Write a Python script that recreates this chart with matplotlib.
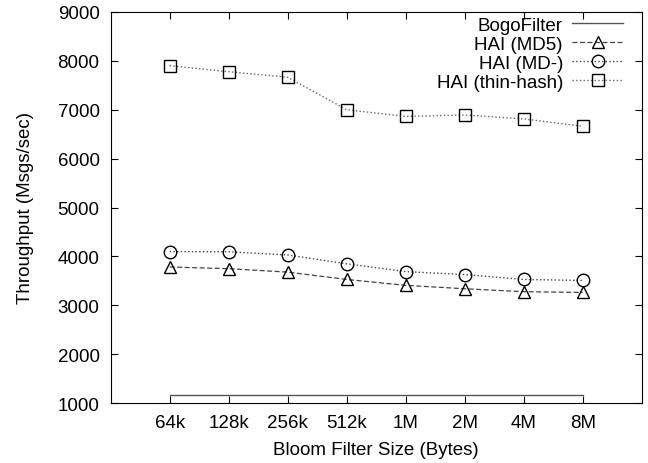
import matplotlib
matplotlib.use("Agg")
import matplotlib.pyplot as plt
import numpy as np

plt.rcParams['font.family'] = ['Liberation Sans', 'DejaVu Sans']

sizes = ["64k", "128k", "256k", "512k", "1M", "2M", "4M", "8M"]
bogofilter = [1176, 1176, 1176, 1176, 1176, 1176, 1176, 1176]
hai_md5 = [3785, 3750, 3680, 3530, 3410, 3340, 3280, 3265]
hai_mdminus = [4100, 4095, 4030, 3850, 3690, 3630, 3530, 3510]
hai_thin = [7897, 7774, 7660, 6998, 6860, 6890, 6810, 6660]

x = np.arange(len(sizes))

fig = plt.figure(figsize=(6.48, 4.64), dpi=100)
ax = fig.add_axes([110.7 / 648, 1 - 404.3 / 464, 531 / 648, 391.6 / 464])

ax.plot(x, bogofilter, "-", color="#555555", lw=1.0, label="BogoFilter")
ax.plot(x, hai_md5, "--", color="#444444", lw=0.9, dashes=(4, 2), marker="^", ms=9,
        mfc="none", mec="black", mew=1.0, label="HAI (MD5)")
ax.plot(x, hai_mdminus, ":", color="#444444", lw=1.0, marker="o", ms=9,
        mfc="none", mec="black", mew=1.0, label="HAI (MD-)")
ax.plot(x, hai_thin, ":", color="#666666", lw=1.0, marker="s", ms=9,
        mfc="none", mec="black", mew=1.0, label="HAI (thin-hash)")

ax.set_xlim(-1, 8)
ax.set_ylim(1000, 9000)
ax.set_xticks(x)
ax.set_xticklabels(sizes)
ax.set_yticks(range(1000, 9001, 1000))
ax.tick_params(direction="in", top=True, right=True, labelsize=13.5, length=5, pad=8)
ax.set_xlabel("Bloom Filter Size (Bytes)", fontsize=13.5, labelpad=7)
ax.set_ylabel("Throughput (Msgs/sec)", fontsize=13.5, labelpad=17)

ax.legend(loc="upper right", bbox_to_anchor=(1.0, 1.035), frameon=False,
          markerfirst=False, fontsize=13.5, handlelength=2.7, labelspacing=0.1,
          borderaxespad=0.6, handletextpad=0.5)

fig.savefig("out.png", dpi=100)
